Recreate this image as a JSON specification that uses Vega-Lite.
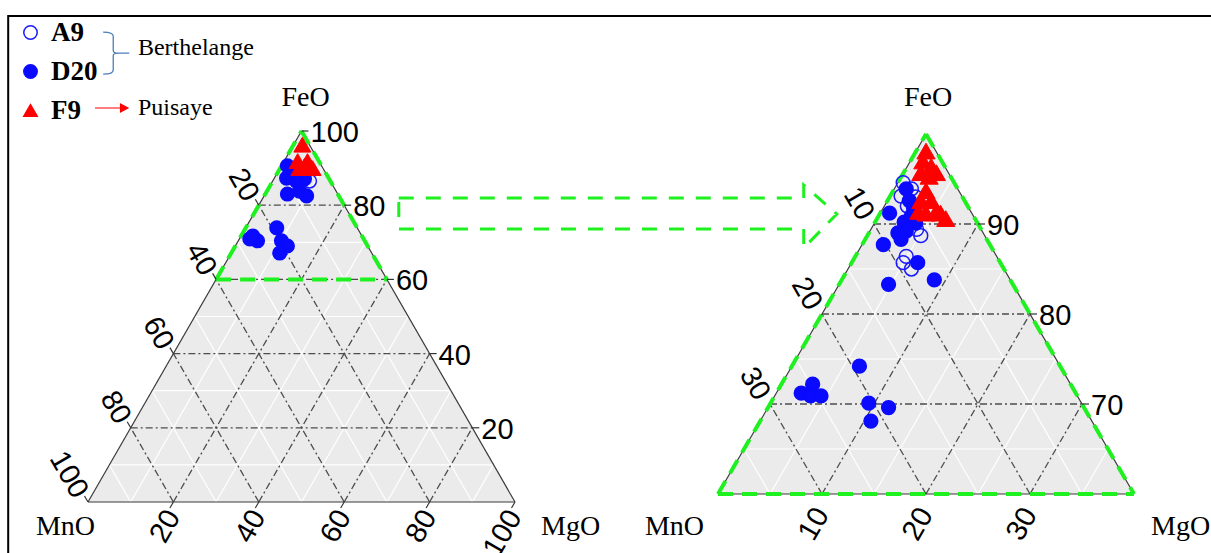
{
  "$schema": "https://vega.github.io/schema/vega-lite/v6.json",
  "padding": {"left": 7, "top": 14, "right": 0, "bottom": 0},
  "autosize": {"type": "pad"},
  "bounds": "flush",
  "spacing": 203,
  "background": "white",
  "config": {
    "view": {"stroke": null},
    "legend": {"padding": 0, "labelFont": "Liberation Serif", "labelFontWeight": "bold", "labelFontSize": 27, "labelColor": "black", "symbolSize": 180, "symbolStrokeWidth": 1.5, "rowPadding": 11, "labelOffset": 7, "labelBaseline": "middle", "symbolOpacity": 1}
  },
  "datasets": {
    "triL": [{"x": 0, "y": 0}, {"x": 50, "y": 100}, {"x": 100, "y": 0}],
    "triR": [{"x": 0, "y": 60}, {"x": 20, "y": 100}, {"x": 40, "y": 60}],
    "gridL": [
      {"kind": "minor", "x": 5, "y": 10, "x2": 95, "y2": 10},
      {"kind": "minor", "x": 15, "y": 30, "x2": 85, "y2": 30},
      {"kind": "minor", "x": 25, "y": 50, "x2": 75, "y2": 50},
      {"kind": "minor", "x": 35, "y": 70, "x2": 65, "y2": 70},
      {"kind": "minor", "x": 45, "y": 90, "x2": 55, "y2": 90},
      {"kind": "minor", "x": 10, "y": 0, "x2": 55, "y2": 90},
      {"kind": "minor", "x": 30, "y": 0, "x2": 65, "y2": 70},
      {"kind": "minor", "x": 50, "y": 0, "x2": 75, "y2": 50},
      {"kind": "minor", "x": 70, "y": 0, "x2": 85, "y2": 30},
      {"kind": "minor", "x": 90, "y": 0, "x2": 95, "y2": 10},
      {"kind": "minor", "x": 90, "y": 0, "x2": 45, "y2": 90},
      {"kind": "minor", "x": 70, "y": 0, "x2": 35, "y2": 70},
      {"kind": "minor", "x": 50, "y": 0, "x2": 25, "y2": 50},
      {"kind": "minor", "x": 30, "y": 0, "x2": 15, "y2": 30},
      {"kind": "minor", "x": 10, "y": 0, "x2": 5, "y2": 10},
      {"kind": "major", "x": 10, "y": 20, "x2": 90, "y2": 20},
      {"kind": "major", "x": 20, "y": 40, "x2": 80, "y2": 40},
      {"kind": "major", "x": 30, "y": 60, "x2": 70, "y2": 60},
      {"kind": "major", "x": 40, "y": 80, "x2": 60, "y2": 80},
      {"kind": "major", "x": 20, "y": 0, "x2": 60, "y2": 80},
      {"kind": "major", "x": 40, "y": 0, "x2": 70, "y2": 60},
      {"kind": "major", "x": 60, "y": 0, "x2": 80, "y2": 40},
      {"kind": "major", "x": 80, "y": 0, "x2": 90, "y2": 20},
      {"kind": "major", "x": 80, "y": 0, "x2": 40, "y2": 80},
      {"kind": "major", "x": 60, "y": 0, "x2": 30, "y2": 60},
      {"kind": "major", "x": 40, "y": 0, "x2": 20, "y2": 40},
      {"kind": "major", "x": 20, "y": 0, "x2": 10, "y2": 20},
      {"kind": "edge", "x": 0, "y": 0, "x2": 50, "y2": 100},
      {"kind": "edge", "x": 50, "y": 100, "x2": 100, "y2": 0},
      {"kind": "edge", "x": 0, "y": 0, "x2": 100, "y2": 0},
      {"kind": "green", "x": 30, "y": 60, "x2": 50, "y2": 100},
      {"kind": "green", "x": 50, "y": 100, "x2": 70, "y2": 60},
      {"kind": "green", "x": 30, "y": 60, "x2": 70, "y2": 60}
    ],
    "gridR": [
      {"kind": "minor", "x": 2.5, "y": 65, "x2": 37.5, "y2": 65},
      {"kind": "minor", "x": 7.5, "y": 75, "x2": 32.5, "y2": 75},
      {"kind": "minor", "x": 12.5, "y": 85, "x2": 27.5, "y2": 85},
      {"kind": "minor", "x": 17.5, "y": 95, "x2": 22.5, "y2": 95},
      {"kind": "minor", "x": 5, "y": 60, "x2": 22.5, "y2": 95},
      {"kind": "minor", "x": 15, "y": 60, "x2": 27.5, "y2": 85},
      {"kind": "minor", "x": 25, "y": 60, "x2": 32.5, "y2": 75},
      {"kind": "minor", "x": 35, "y": 60, "x2": 37.5, "y2": 65},
      {"kind": "minor", "x": 35, "y": 60, "x2": 17.5, "y2": 95},
      {"kind": "minor", "x": 25, "y": 60, "x2": 12.5, "y2": 85},
      {"kind": "minor", "x": 15, "y": 60, "x2": 7.5, "y2": 75},
      {"kind": "minor", "x": 5, "y": 60, "x2": 2.5, "y2": 65},
      {"kind": "major", "x": 5, "y": 70, "x2": 35, "y2": 70},
      {"kind": "major", "x": 10, "y": 80, "x2": 30, "y2": 80},
      {"kind": "major", "x": 15, "y": 90, "x2": 25, "y2": 90},
      {"kind": "major", "x": 10, "y": 60, "x2": 25, "y2": 90},
      {"kind": "major", "x": 20, "y": 60, "x2": 30, "y2": 80},
      {"kind": "major", "x": 30, "y": 60, "x2": 35, "y2": 70},
      {"kind": "major", "x": 30, "y": 60, "x2": 15, "y2": 90},
      {"kind": "major", "x": 20, "y": 60, "x2": 10, "y2": 80},
      {"kind": "major", "x": 10, "y": 60, "x2": 5, "y2": 70},
      {"kind": "edge", "x": 0, "y": 60, "x2": 20, "y2": 100},
      {"kind": "edge", "x": 20, "y": 100, "x2": 40, "y2": 60},
      {"kind": "edge", "x": 0, "y": 60, "x2": 40, "y2": 60},
      {"kind": "green", "x": 0, "y": 60, "x2": 20, "y2": 100},
      {"kind": "green", "x": 20, "y": 100, "x2": 40, "y2": 60},
      {"kind": "green", "x": 0, "y": 60, "x2": 40, "y2": 60}
    ],
    "labL": [
      {"side": "right", "label": "20", "x": 90, "y": 20},
      {"side": "right", "label": "40", "x": 80, "y": 40},
      {"side": "right", "label": "60", "x": 70, "y": 60},
      {"side": "right", "label": "80", "x": 60, "y": 80},
      {"side": "right", "label": "100", "x": 50, "y": 100},
      {"side": "left", "label": "20", "x": 40, "y": 80},
      {"side": "left", "label": "40", "x": 30, "y": 60},
      {"side": "left", "label": "60", "x": 20, "y": 40},
      {"side": "left", "label": "80", "x": 10, "y": 20},
      {"side": "left", "label": "100", "x": 0, "y": 0},
      {"side": "bottom", "label": "20", "x": 20, "y": 0},
      {"side": "bottom", "label": "40", "x": 40, "y": 0},
      {"side": "bottom", "label": "60", "x": 60, "y": 0},
      {"side": "bottom", "label": "80", "x": 80, "y": 0},
      {"side": "bottom", "label": "100", "x": 100, "y": 0}
    ],
    "labR": [
      {"side": "right", "label": "90", "x": 25, "y": 90},
      {"side": "right", "label": "80", "x": 30, "y": 80},
      {"side": "right", "label": "70", "x": 35, "y": 70},
      {"side": "left", "label": "10", "x": 15, "y": 90},
      {"side": "left", "label": "20", "x": 10, "y": 80},
      {"side": "left", "label": "30", "x": 5, "y": 70},
      {"side": "bottom", "label": "10", "x": 10, "y": 60},
      {"side": "bottom", "label": "20", "x": 20, "y": 60},
      {"side": "bottom", "label": "30", "x": 30, "y": 60}
    ],
    "ptsL": [
      {"sample": "A9", "x": 48.6, "y": 89.2},
      {"sample": "A9", "x": 51.9, "y": 86.5},
      {"sample": "D20", "x": 46.7, "y": 90.6},
      {"sample": "D20", "x": 46.5, "y": 87.3},
      {"sample": "D20", "x": 46.7, "y": 83.0},
      {"sample": "D20", "x": 49.5, "y": 83.8},
      {"sample": "D20", "x": 51.2, "y": 82.5},
      {"sample": "D20", "x": 50.7, "y": 87.1},
      {"sample": "D20", "x": 48.8, "y": 86.5},
      {"sample": "D20", "x": 47.9, "y": 89.2},
      {"sample": "D20", "x": 38.6, "y": 71.7},
      {"sample": "D20", "x": 39.7, "y": 70.4},
      {"sample": "D20", "x": 37.9, "y": 70.9},
      {"sample": "D20", "x": 44.2, "y": 73.9},
      {"sample": "D20", "x": 45.3, "y": 70.4},
      {"sample": "D20", "x": 46.7, "y": 69.0},
      {"sample": "D20", "x": 44.9, "y": 67.1},
      {"sample": "F9", "x": 50.2, "y": 96.3},
      {"sample": "F9", "x": 49.1, "y": 91.9},
      {"sample": "F9", "x": 51.4, "y": 91.9},
      {"sample": "F9", "x": 52.6, "y": 90.0},
      {"sample": "F9", "x": 49.5, "y": 90.0},
      {"sample": "F9", "x": 50.7, "y": 90.6}
    ],
    "ptsR": [
      {"sample": "A9", "x": 17.8, "y": 94.6},
      {"sample": "A9", "x": 18.6, "y": 93.9},
      {"sample": "A9", "x": 17.6, "y": 93.1},
      {"sample": "A9", "x": 19.0, "y": 93.0},
      {"sample": "A9", "x": 18.2, "y": 92.0},
      {"sample": "A9", "x": 19.1, "y": 89.4},
      {"sample": "A9", "x": 19.5, "y": 88.7},
      {"sample": "A9", "x": 18.1, "y": 86.4},
      {"sample": "A9", "x": 17.8, "y": 85.7},
      {"sample": "A9", "x": 18.6, "y": 85.0},
      {"sample": "D20", "x": 16.5, "y": 91.2},
      {"sample": "D20", "x": 17.9, "y": 90.2},
      {"sample": "D20", "x": 18.6, "y": 90.9},
      {"sample": "D20", "x": 19.0, "y": 90.1},
      {"sample": "D20", "x": 18.1, "y": 89.2},
      {"sample": "D20", "x": 17.6, "y": 88.3},
      {"sample": "D20", "x": 15.9, "y": 87.7},
      {"sample": "D20", "x": 17.3, "y": 89.0},
      {"sample": "D20", "x": 19.2, "y": 85.7},
      {"sample": "D20", "x": 20.8, "y": 83.8},
      {"sample": "D20", "x": 16.4, "y": 83.3},
      {"sample": "D20", "x": 18.4, "y": 92.6},
      {"sample": "D20", "x": 18.1, "y": 93.9},
      {"sample": "D20", "x": 18.8, "y": 91.8},
      {"sample": "D20", "x": 13.6, "y": 74.2},
      {"sample": "D20", "x": 8.0, "y": 71.2},
      {"sample": "D20", "x": 9.1, "y": 72.2},
      {"sample": "D20", "x": 8.9, "y": 70.9},
      {"sample": "D20", "x": 9.9, "y": 70.9},
      {"sample": "D20", "x": 14.5, "y": 70.1},
      {"sample": "D20", "x": 16.4, "y": 69.6},
      {"sample": "D20", "x": 14.7, "y": 68.1},
      {"sample": "F9", "x": 20.0, "y": 98.1},
      {"sample": "F9", "x": 19.7, "y": 97.0},
      {"sample": "F9", "x": 20.5, "y": 96.4},
      {"sample": "F9", "x": 21.0, "y": 95.7},
      {"sample": "F9", "x": 19.5, "y": 95.7},
      {"sample": "F9", "x": 20.3, "y": 95.3},
      {"sample": "F9", "x": 20.0, "y": 93.7},
      {"sample": "F9", "x": 19.5, "y": 92.6},
      {"sample": "F9", "x": 20.5, "y": 92.6},
      {"sample": "F9", "x": 21.0, "y": 91.4},
      {"sample": "F9", "x": 20.0, "y": 91.2},
      {"sample": "F9", "x": 21.4, "y": 91.2},
      {"sample": "F9", "x": 19.3, "y": 91.4},
      {"sample": "F9", "x": 21.9, "y": 90.6}
    ]
  },
  "hconcat": [
    {
      "width": 427,
      "height": 371,
      "layer": [
        {
          "data": {"name": "triL"},
          "mark": {"type": "area", "color": "#ebebeb", "opacity": 1},
          "encoding": {
            "x": {"field": "x", "type": "quantitative", "scale": {"domain": [0, 100], "nice": false, "zero": false}, "axis": null},
            "y": {"field": "y", "type": "quantitative", "scale": {"domain": [0, 100], "nice": false, "zero": false}, "axis": null},
            "y2": {"datum": 0}
          }
        },
        {
          "data": {"name": "gridL"},
          "transform": [{"filter": "datum.kind === 'minor'"}],
          "mark": {"type": "rule", "color": "#ffffff", "strokeWidth": 1.2},
          "encoding": {"x": {"field": "x", "type": "quantitative"}, "y": {"field": "y", "type": "quantitative"}, "x2": {"field": "x2"}, "y2": {"field": "y2"}}
        },
        {
          "data": {"name": "gridL"},
          "transform": [{"filter": "datum.kind === 'major'"}],
          "mark": {"type": "rule", "color": "#4d4d4d", "strokeWidth": 1.3, "strokeDash": [7, 3, 2, 3]},
          "encoding": {"x": {"field": "x", "type": "quantitative"}, "y": {"field": "y", "type": "quantitative"}, "x2": {"field": "x2"}, "y2": {"field": "y2"}}
        },
        {
          "data": {"name": "gridL"},
          "transform": [{"filter": "datum.kind === 'edge'"}],
          "mark": {"type": "rule", "color": "#3a3a3a", "strokeWidth": 1.2},
          "encoding": {"x": {"field": "x", "type": "quantitative"}, "y": {"field": "y", "type": "quantitative"}, "x2": {"field": "x2"}, "y2": {"field": "y2"}}
        },
        {
          "data": {"name": "gridL"},
          "transform": [{"filter": "datum.kind === 'green'"}],
          "mark": {"type": "rule", "color": "#1ff01f", "strokeWidth": 4, "strokeDash": [15, 9]},
          "encoding": {"x": {"field": "x", "type": "quantitative"}, "y": {"field": "y", "type": "quantitative"}, "x2": {"field": "x2"}, "y2": {"field": "y2"}}
        },
        {
          "data": {"name": "labL"},
          "transform": [{"filter": "datum.side === 'right'"}],
          "mark": {"type": "rule", "color": "#333333", "strokeWidth": 1.2, "x2Offset": 7},
          "encoding": {"x": {"field": "x", "type": "quantitative"}, "y": {"field": "y", "type": "quantitative"}, "x2": {"field": "x"}}
        },
        {
          "data": {"name": "labL"},
          "transform": [{"filter": "datum.side === 'left'"}],
          "mark": {"type": "rule", "color": "#333333", "strokeWidth": 1.2, "x2Offset": -3.5, "y2Offset": -6},
          "encoding": {"x": {"field": "x", "type": "quantitative"}, "y": {"field": "y", "type": "quantitative"}, "x2": {"field": "x"}, "y2": {"field": "y"}}
        },
        {
          "data": {"name": "labL"},
          "transform": [{"filter": "datum.side === 'bottom'"}],
          "mark": {"type": "rule", "color": "#333333", "strokeWidth": 1.2, "x2Offset": -3.5, "y2Offset": 6},
          "encoding": {"x": {"field": "x", "type": "quantitative"}, "y": {"field": "y", "type": "quantitative"}, "x2": {"field": "x"}, "y2": {"field": "y"}}
        },
        {
          "data": {"name": "ptsL"},
          "transform": [{"filter": "datum.sample !== 'F9'"}],
          "mark": {"type": "point", "size": 185, "opacity": 1, "strokeWidth": 1.5},
          "encoding": {
            "x": {"field": "x", "type": "quantitative"},
            "y": {"field": "y", "type": "quantitative"},
            "fill": {"field": "sample", "type": "nominal", "scale": {"domain": ["A9", "D20", "F9"], "range": ["transparent", "#0a0aff", "#ff0000"]}, "legend": {"orient": "none", "legendX": -71, "legendY": -112, "title": null}},
            "stroke": {"field": "sample", "type": "nominal", "scale": {"domain": ["A9", "D20", "F9"], "range": ["#1a1aff", "#0a0aff", "#ff0000"]}, "legend": {"orient": "none", "legendX": -71, "legendY": -112, "title": null}},
            "shape": {"field": "sample", "type": "nominal", "scale": {"domain": ["A9", "D20", "F9"], "range": ["circle", "circle", "triangle-up"]}, "legend": {"orient": "none", "legendX": -71, "legendY": -112, "title": null}}
          }
        },
        {
          "data": {"name": "ptsL"},
          "transform": [{"filter": "datum.sample === 'F9'"}],
          "mark": {"type": "point", "size": 290, "opacity": 1, "strokeWidth": 1},
          "encoding": {
            "x": {"field": "x", "type": "quantitative"},
            "y": {"field": "y", "type": "quantitative"},
            "fill": {"field": "sample", "type": "nominal"},
            "stroke": {"field": "sample", "type": "nominal"},
            "shape": {"field": "sample", "type": "nominal"}
          }
        },
        {
          "data": {"name": "labL"},
          "transform": [{"filter": "datum.side === 'right'"}],
          "mark": {"type": "text", "align": "left", "baseline": "middle", "dx": 9, "dy": 2, "font": "Liberation Sans", "fontSize": 29, "color": "black"},
          "encoding": {"x": {"field": "x", "type": "quantitative"}, "y": {"field": "y", "type": "quantitative"}, "text": {"field": "label"}}
        },
        {
          "data": {"name": "labL"},
          "transform": [{"filter": "datum.side === 'left'"}],
          "mark": {"type": "text", "align": "right", "baseline": "middle", "angle": 60, "dx": -9, "dy": 3, "font": "Liberation Sans", "fontSize": 29, "color": "black"},
          "encoding": {"x": {"field": "x", "type": "quantitative"}, "y": {"field": "y", "type": "quantitative"}, "text": {"field": "label"}}
        },
        {
          "data": {"name": "labL"},
          "transform": [{"filter": "datum.side === 'bottom'"}],
          "mark": {"type": "text", "align": "right", "baseline": "middle", "angle": 300, "dx": -9, "dy": 5, "font": "Liberation Sans", "fontSize": 29, "color": "black"},
          "encoding": {"x": {"field": "x", "type": "quantitative"}, "y": {"field": "y", "type": "quantitative"}, "text": {"field": "label"}}
        },
        {
          "data": {"values": [{}]},
          "mark": {"type": "text", "text": "FeO", "align": "center", "baseline": "middle", "dx": 4, "dy": -33, "font": "Liberation Serif", "fontSize": 28, "color": "black"},
          "encoding": {"x": {"datum": 50}, "y": {"datum": 100}}
        },
        {
          "data": {"values": [{}]},
          "mark": {"type": "text", "text": "MnO", "align": "right", "baseline": "middle", "dx": 7, "dy": 25, "font": "Liberation Serif", "fontSize": 28, "color": "black"},
          "encoding": {"x": {"datum": 0}, "y": {"datum": 0}}
        },
        {
          "data": {"values": [{}]},
          "mark": {"type": "text", "text": "MgO", "align": "left", "baseline": "middle", "dx": 26, "dy": 25, "font": "Liberation Serif", "fontSize": 28, "color": "black"},
          "encoding": {"x": {"datum": 100}, "y": {"datum": 0}}
        },
        {
          "data": {"values": [{}]},
          "mark": {"type": "point", "shape": "M-0.62,-1Q-0.14,-1,-0.14,-0.8L-0.14,-0.12Q-0.14,0,0.1,0L0.62,0M0.1,0Q-0.14,0,-0.14,0.12L-0.14,0.8Q-0.14,1,-0.62,1", "size": 1764, "filled": false, "stroke": "#4a7ebb", "strokeWidth": 1.3, "opacity": 1},
          "encoding": {"x": {"datum": 6.6}, "y": {"datum": 121.0}}
        },
        {
          "data": {"values": [{}]},
          "mark": {"type": "text", "text": "Berthelange", "align": "left", "baseline": "middle", "font": "Liberation Serif", "fontSize": 24, "color": "black"},
          "encoding": {"x": {"datum": 11.7}, "y": {"datum": 122.4}}
        },
        {
          "data": {"values": [{}]},
          "mark": {"type": "point", "shape": "M-1,0L0.7,0M0.55,-0.24L1,0L0.55,0.24Z", "size": 1089, "filled": true, "fill": "#ff0000", "stroke": "#ff0000", "strokeWidth": 1.2, "opacity": 1},
          "encoding": {"x": {"datum": 5.49}, "y": {"datum": 106.2}}
        },
        {
          "data": {"values": [{}]},
          "mark": {"type": "text", "text": "Puisaye", "align": "left", "baseline": "middle", "font": "Liberation Serif", "fontSize": 24, "color": "black"},
          "encoding": {"x": {"datum": 11.7}, "y": {"datum": 106.2}}
        },
        {
          "data": {"values": [{}]},
          "mark": {"type": "point", "shape": "M-1,-0.073L0.849,-0.073L0.849,-0.132L1,0L0.849,0.155L0.849,0.068L-1,0.068Z", "size": 191844, "filled": false, "stroke": "#1ff01f", "strokeWidth": 3, "strokeDash": [15, 12], "opacity": 1},
          "encoding": {"x": {"datum": 124.07}, "y": {"datum": 77.63}}
        },
        {
          "data": {"values": [{}]},
          "mark": {"type": "rect", "fillOpacity": 0, "stroke": "black", "strokeWidth": 2},
          "encoding": {"x": {"datum": -18.69}, "x2": {"datum": 264.5}, "y": {"datum": 131.0}, "y2": {"datum": -15.9}}
        }
      ]
    },
    {
      "width": 416,
      "height": 363,
      "layer": [
        {
          "data": {"name": "triR"},
          "mark": {"type": "area", "color": "#ebebeb", "opacity": 1},
          "encoding": {
            "x": {"field": "x", "type": "quantitative", "scale": {"domain": [0, 40], "nice": false, "zero": false}, "axis": null},
            "y": {"field": "y", "type": "quantitative", "scale": {"domain": [60, 100.333], "nice": false, "zero": false}, "axis": null},
            "y2": {"datum": 60}
          }
        },
        {
          "data": {"name": "gridR"},
          "transform": [{"filter": "datum.kind === 'minor'"}],
          "mark": {"type": "rule", "color": "#ffffff", "strokeWidth": 1.2},
          "encoding": {"x": {"field": "x", "type": "quantitative"}, "y": {"field": "y", "type": "quantitative"}, "x2": {"field": "x2"}, "y2": {"field": "y2"}}
        },
        {
          "data": {"name": "gridR"},
          "transform": [{"filter": "datum.kind === 'major'"}],
          "mark": {"type": "rule", "color": "#4d4d4d", "strokeWidth": 1.3, "strokeDash": [7, 3, 2, 3]},
          "encoding": {"x": {"field": "x", "type": "quantitative"}, "y": {"field": "y", "type": "quantitative"}, "x2": {"field": "x2"}, "y2": {"field": "y2"}}
        },
        {
          "data": {"name": "gridR"},
          "transform": [{"filter": "datum.kind === 'edge'"}],
          "mark": {"type": "rule", "color": "#3a3a3a", "strokeWidth": 1.2},
          "encoding": {"x": {"field": "x", "type": "quantitative"}, "y": {"field": "y", "type": "quantitative"}, "x2": {"field": "x2"}, "y2": {"field": "y2"}}
        },
        {
          "data": {"name": "gridR"},
          "transform": [{"filter": "datum.kind === 'green'"}],
          "mark": {"type": "rule", "color": "#1ff01f", "strokeWidth": 4, "strokeDash": [15, 9]},
          "encoding": {"x": {"field": "x", "type": "quantitative"}, "y": {"field": "y", "type": "quantitative"}, "x2": {"field": "x2"}, "y2": {"field": "y2"}}
        },
        {
          "data": {"name": "labR"},
          "transform": [{"filter": "datum.side === 'right'"}],
          "mark": {"type": "rule", "color": "#333333", "strokeWidth": 1.2, "x2Offset": 7},
          "encoding": {"x": {"field": "x", "type": "quantitative"}, "y": {"field": "y", "type": "quantitative"}, "x2": {"field": "x"}}
        },
        {
          "data": {"name": "ptsR"},
          "transform": [{"filter": "datum.sample !== 'F9'"}],
          "mark": {"type": "point", "size": 190, "opacity": 1, "strokeWidth": 1.5},
          "encoding": {
            "x": {"field": "x", "type": "quantitative"},
            "y": {"field": "y", "type": "quantitative"},
            "fill": {"field": "sample", "type": "nominal"},
            "stroke": {"field": "sample", "type": "nominal"},
            "shape": {"field": "sample", "type": "nominal"}
          }
        },
        {
          "data": {"name": "ptsR"},
          "transform": [{"filter": "datum.sample === 'F9'"}],
          "mark": {"type": "point", "size": 330, "opacity": 1, "strokeWidth": 1},
          "encoding": {
            "x": {"field": "x", "type": "quantitative"},
            "y": {"field": "y", "type": "quantitative"},
            "fill": {"field": "sample", "type": "nominal"},
            "stroke": {"field": "sample", "type": "nominal"},
            "shape": {"field": "sample", "type": "nominal"}
          }
        },
        {
          "data": {"name": "labR"},
          "transform": [{"filter": "datum.side === 'right'"}],
          "mark": {"type": "text", "align": "left", "baseline": "middle", "dx": 9, "dy": 2, "font": "Liberation Sans", "fontSize": 29, "color": "black"},
          "encoding": {"x": {"field": "x", "type": "quantitative"}, "y": {"field": "y", "type": "quantitative"}, "text": {"field": "label"}}
        },
        {
          "data": {"name": "labR"},
          "transform": [{"filter": "datum.side === 'left'"}],
          "mark": {"type": "text", "align": "right", "baseline": "middle", "angle": 60, "dx": -9, "dy": 3, "font": "Liberation Sans", "fontSize": 29, "color": "black"},
          "encoding": {"x": {"field": "x", "type": "quantitative"}, "y": {"field": "y", "type": "quantitative"}, "text": {"field": "label"}}
        },
        {
          "data": {"name": "labR"},
          "transform": [{"filter": "datum.side === 'bottom'"}],
          "mark": {"type": "text", "align": "right", "baseline": "middle", "angle": 300, "dx": -14, "dy": 8, "font": "Liberation Sans", "fontSize": 29, "color": "black"},
          "encoding": {"x": {"field": "x", "type": "quantitative"}, "y": {"field": "y", "type": "quantitative"}, "text": {"field": "label"}}
        },
        {
          "data": {"values": [{}]},
          "mark": {"type": "text", "text": "FeO", "align": "center", "baseline": "middle", "dx": 2, "dy": -36, "font": "Liberation Serif", "fontSize": 28, "color": "black"},
          "encoding": {"x": {"datum": 20}, "y": {"datum": 100}}
        },
        {
          "data": {"values": [{}]},
          "mark": {"type": "text", "text": "MnO", "align": "right", "baseline": "middle", "dx": -14, "dy": 33, "font": "Liberation Serif", "fontSize": 28, "color": "black"},
          "encoding": {"x": {"datum": 0}, "y": {"datum": 60}}
        },
        {
          "data": {"values": [{}]},
          "mark": {"type": "text", "text": "MgO", "align": "left", "baseline": "middle", "dx": 17, "dy": 33, "font": "Liberation Serif", "fontSize": 28, "color": "black"},
          "encoding": {"x": {"datum": 40}, "y": {"datum": 60}}
        }
      ]
    }
  ]
}
